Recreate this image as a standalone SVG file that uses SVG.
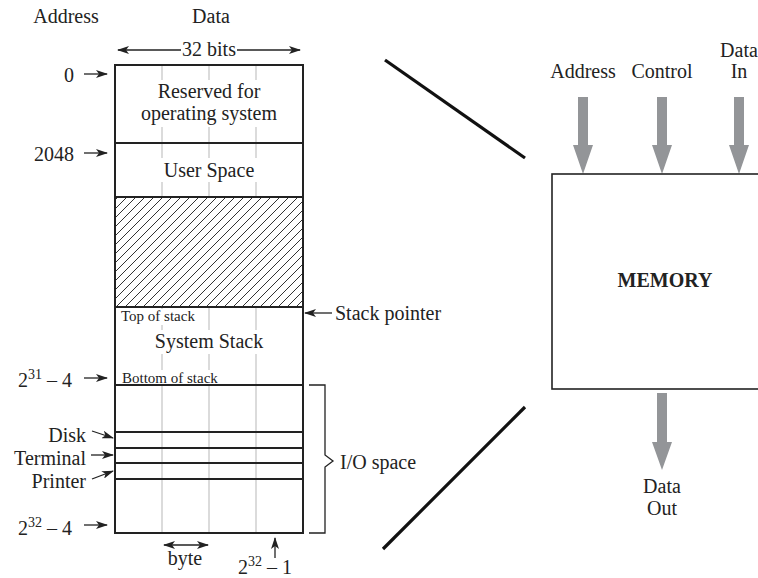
<svg xmlns="http://www.w3.org/2000/svg" width="758" height="578" viewBox="0 0 758 578">
<style>
text{font-family:"Liberation Serif","Times New Roman",serif;font-size:20px;fill:#222}
.s{font-size:15px}
.sup{font-size:14px}
.m{text-anchor:middle}
.e{text-anchor:end}
.b{font-weight:bold}
.ln{stroke:#222;stroke-width:2;fill:none}
.g{stroke:#d2d2d2;stroke-width:1.6}
.ar{stroke:#222;stroke-width:1.3;fill:none}
.gray{fill:#939598}
.diag{stroke:#111;stroke-width:3.2}
</style>
<defs>
<marker id="ah" viewBox="0 0 12 8" refX="11" refY="4" markerWidth="12" markerHeight="8" markerUnits="userSpaceOnUse" orient="auto-start-reverse">
<path d="M0,0 L12,4 L0,8 L3,4 z" fill="#222"/>
</marker>
<pattern id="hatch" patternUnits="userSpaceOnUse" width="9" height="9">
<path d="M0,9 L9,0 M-1,1 L1,-1 M8,10 L10,8" stroke="#333" stroke-width="1"/>
</pattern>
</defs>

<rect width="758" height="578" fill="#fff"/>

<g id="headers">
<text x="66" y="23" class="m">Address</text>
<text x="211" y="23" class="m">Data</text>
</g>

<g id="memory-map">
<line class="g" x1="162" y1="65" x2="162" y2="533"/>
<line class="g" x1="209" y1="65" x2="209" y2="533"/>
<line class="g" x1="256" y1="65" x2="256" y2="533"/>
<rect x="115" y="197" width="188" height="110" fill="#fff"/>
<rect x="115" y="197" width="188" height="110" fill="url(#hatch)"/>
<rect x="130" y="80" width="160" height="47" fill="#fff"/>
<rect x="155" y="158" width="108" height="24" fill="#fff"/>
<rect x="120" y="309" width="80" height="16" fill="#fff"/>
<rect x="150" y="330" width="118" height="24" fill="#fff"/>
<rect x="120" y="370" width="102" height="15" fill="#fff"/>
<rect class="ln" x="115" y="65" width="188" height="468"/>
<line class="ln" x1="115" y1="143" x2="303" y2="143"/>
<line class="ln" x1="115" y1="197" x2="303" y2="197"/>
<line class="ln" x1="115" y1="307" x2="303" y2="307"/>
<line class="ln" x1="115" y1="385" x2="303" y2="385"/>
<line class="ln" x1="115" y1="432" x2="303" y2="432"/>
<line class="ln" x1="115" y1="448" x2="303" y2="448"/>
<line class="ln" x1="115" y1="463" x2="303" y2="463"/>
<line class="ln" x1="115" y1="479" x2="303" y2="479"/>
<text x="209" y="98" class="m">Reserved for</text>
<text x="209" y="120" class="m">operating system</text>
<text x="209" y="177" class="m">User Space</text>
<text x="121" y="321" class="s">Top of stack</text>
<text x="209" y="348" class="m">System Stack</text>
<text x="122" y="383" class="s">Bottom of stack</text>
</g>

<g id="labels">
<text x="74" y="82" class="e">0</text>
<text x="74" y="161" class="e">2048</text>
<text x="18" y="387">2<tspan class="sup" dy="-8">31</tspan><tspan dy="8"> – 4</tspan></text>
<text x="86" y="442" class="e">Disk</text>
<text x="86" y="465" class="e">Terminal</text>
<text x="86" y="488" class="e">Printer</text>
<text x="18" y="535">2<tspan class="sup" dy="-8">32</tspan><tspan dy="8"> – 4</tspan></text>
<text x="209" y="56" class="m">32 bits</text>
<text x="185" y="565" class="m">byte</text>
<text x="238" y="574">2<tspan class="sup" dy="-8">32</tspan><tspan dy="8"> – 1</tspan></text>
<text x="335" y="320">Stack pointer</text>
<text x="340" y="469">I/O space</text>
</g>

<g id="connectors">
<line class="ar" x1="118" y1="50" x2="181" y2="50" marker-start="url(#ah)"/>
<line class="ar" x1="237" y1="50" x2="300" y2="50" marker-end="url(#ah)"/>
<line class="ar" x1="84" y1="74" x2="107" y2="74" marker-end="url(#ah)"/>
<line class="ar" x1="84" y1="153" x2="107" y2="153" marker-end="url(#ah)"/>
<line class="ar" x1="84" y1="378" x2="107" y2="378" marker-end="url(#ah)"/>
<line class="ar" x1="92" y1="431" x2="113" y2="438" marker-end="url(#ah)"/>
<line class="ar" x1="91" y1="455" x2="113" y2="455" marker-end="url(#ah)"/>
<line class="ar" x1="92" y1="479" x2="113" y2="471" marker-end="url(#ah)"/>
<line class="ar" x1="84" y1="525" x2="107" y2="525" marker-end="url(#ah)"/>
<line class="ar" x1="164" y1="545" x2="208" y2="545" marker-start="url(#ah)" marker-end="url(#ah)"/>
<line class="ar" x1="275" y1="558" x2="275" y2="538" marker-end="url(#ah)"/>
<line class="ar" x1="332" y1="313" x2="305" y2="313" marker-end="url(#ah)"/>
<path class="ar" stroke-width="2" d="M309,385 H325 V455 L333,461 L325,467 V533 H309"/>
<line class="diag" x1="385" y1="60" x2="525" y2="158"/>
<line class="diag" x1="525" y1="407" x2="383" y2="549"/>
<path class="gray" d="M578,97 H588 V145 H593 L583,174 L573,145 H578 z"/>
<path class="gray" d="M657,97 H667 V145 H672 L662,174 L652,145 H657 z"/>
<path class="gray" d="M734,97 H744 V145 H749 L739,174 L729,145 H734 z"/>
<path class="gray" d="M657,393 H667 V442 H672 L662,470 L652,442 H657 z"/>
</g>

<g id="memory">
<rect x="552" y="174" width="220" height="215" fill="none" stroke="#222" stroke-width="1.6"/>
<text x="665" y="287" class="m b">MEMORY</text>
<text x="583" y="78" class="m">Address</text>
<text x="662" y="78" class="m">Control</text>
<text x="739" y="57" class="m">Data</text>
<text x="739" y="78" class="m">In</text>
<text x="662" y="493" class="m">Data</text>
<text x="662" y="515" class="m">Out</text>
</g>
</svg>
